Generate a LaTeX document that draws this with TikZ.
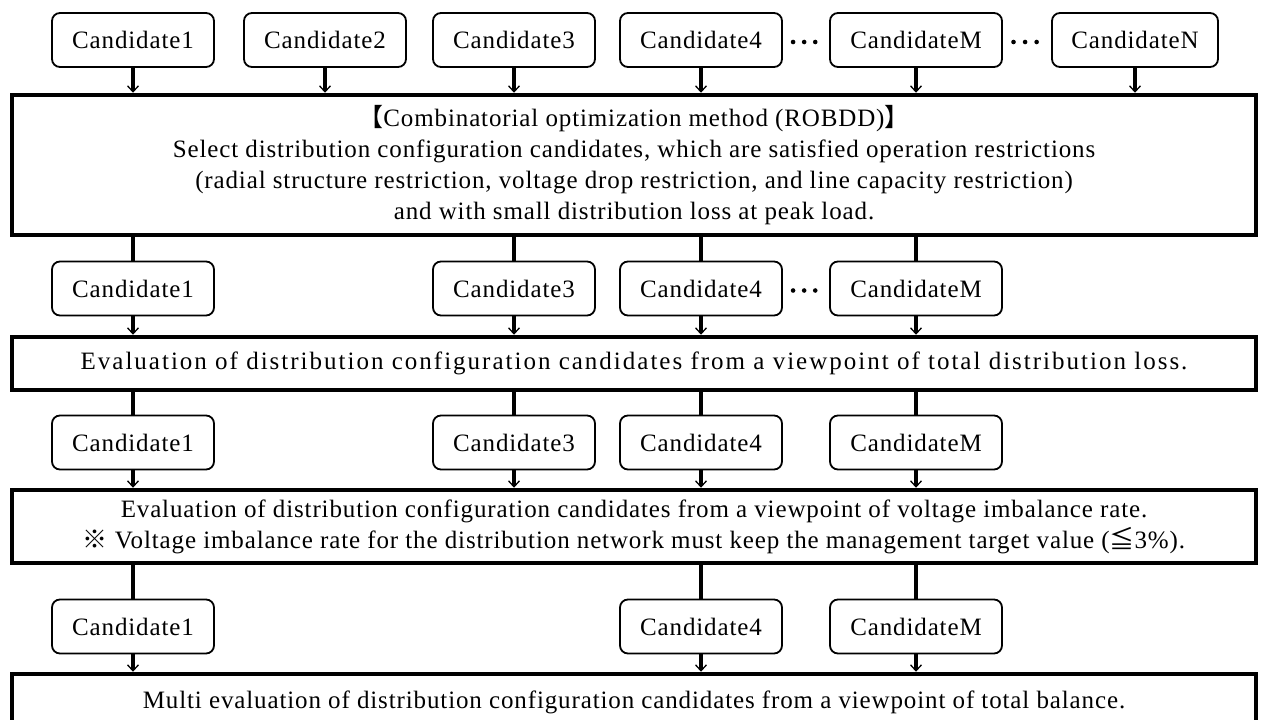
\documentclass[tikz,border=0pt]{standalone}
\usepackage{fontspec}
\setmainfont{Liberation Serif}[LetterSpace=3.5]
\newfontfamily\widefont{Liberation Serif}[LetterSpace=8]
\newfontfamily\cjk{Noto Sans CJK JP}
\usetikzlibrary{arrows.meta,calc}

\begin{document}
\begin{tikzpicture}[x=1pt, y=-1pt,
		cand/.style={draw, rounded corners=8pt, line width=1.8pt, minimum width=162pt, minimum height=54pt, inner sep=0pt, font=\fontsize{25}{30}\selectfont},
		stage/.style={draw, line width=4.5pt, minimum width=1244pt, align=center, inner sep=0pt, font=\fontsize{25}{31}\selectfont},
		feed/.style={line width=3.4pt, -{Straight Barb[length=6pt, width=11pt, line width=1.3pt]}},
		link/.style={line width=3.4pt}]
		
		\useasboundingbox (0, 0) rectangle (1261, 720);
		
		% candidates before the selection
		\node [cand] (t1) at (133, 40) {Candidate1};
		\node [cand] (t2) at (325, 40) {Candidate2};
		\node [cand] (t3) at (514, 40) {Candidate3};
		\node [cand] (t4) at (701, 40) {Candidate4};
		\node [cand, minimum width=172pt] (tM) at (916, 40) {CandidateM};
		\node [cand, minimum width=166pt] (tN) at (1135, 40) {CandidateN};
		
		\node [stage, minimum height=140pt] (opt) at (634, 165) {{\cjk 【}Combinatorial optimization method (ROBDD){\cjk 】}\\
			Select distribution configuration candidates, which are satisfied operation restrictions\\
			(radial structure restriction, voltage drop restriction, and line capacity restriction)\\
			and with small distribution loss at peak load.};
		
		\foreach \n in {t1, t2, t3, t4, tM, tN}
			\draw [feed] (\n) -- (\n |- opt.north);
		
		% after the selection
		\node [cand] (a1) at (133, 288.5) {Candidate1};
		\node [cand] (a3) at (514, 288.5) {Candidate3};
		\node [cand] (a4) at (701, 288.5) {Candidate4};
		\node [cand, minimum width=172pt] (aM) at (916, 288.5) {CandidateM};
		
		\node [stage, minimum height=53pt] (loss) at (634, 363.5) {\widefont Evaluation of distribution configuration candidates from a viewpoint of total distribution loss.};
		
		\foreach \n in {a1, a3, a4, aM} {
			\draw [link] (opt.south -| \n) -- (\n);
			\draw [feed] (\n) -- (\n |- loss.north);
		}
		
		% after the loss check
		\node [cand] (b1) at (133, 442.5) {Candidate1};
		\node [cand] (b3) at (514, 442.5) {Candidate3};
		\node [cand] (b4) at (701, 442.5) {Candidate4};
		\node [cand, minimum width=172pt] (bM) at (916, 442.5) {CandidateM};
		
		\node [stage, minimum height=73pt] (vur) at (634, 526.5) {Evaluation of distribution configuration candidates from a viewpoint of voltage imbalance rate.\\
			{\cjk ※} Voltage imbalance rate for the distribution network must keep the management target value ({\cjk ≦}3\%).};
		
		\foreach \n in {b1, b3, b4, bM} {
			\draw [link] (loss.south -| \n) -- (\n);
			\draw [feed] (\n) -- (\n |- vur.north);
		}
		
		% after the imbalance check
		\node [cand] (c1) at (133, 626.5) {Candidate1};
		\node [cand] (c4) at (701, 626.5) {Candidate4};
		\node [cand, minimum width=172pt] (cM) at (916, 626.5) {CandidateM};
		
		\node [stage, minimum height=56pt] (total) at (634, 702) {Multi evaluation of distribution configuration candidates from a viewpoint of total balance.};
		
		\foreach \n in {c1, c4, cM} {
			\draw [link] (vur.south -| \n) -- (\n);
			\draw [feed] (\n) -- (\n |- total.north);
		}
		
		% dots
		\foreach \p in {0.22, 0.46, 0.7} {
			\fill ($(t4.east)!\p!(tM.west)$) ++(0, 2) circle (2.3pt);
			\fill ($(tM.east)!\p!(tN.west)$) ++(0, 2) circle (2.3pt);
			\fill ($(a4.east)!\p!(aM.west)$) ++(0, 2) circle (2.3pt);
		}
		
		\end{tikzpicture}
\end{document}
